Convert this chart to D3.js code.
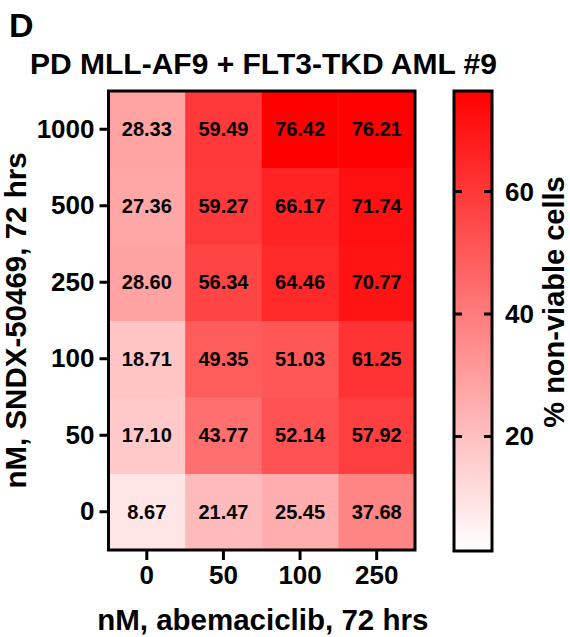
<!DOCTYPE html>
<html>
<head>
<meta charset="utf-8">
<script src="https://cdn.jsdelivr.net/npm/d3@7"></script>
<style>
html,body{margin:0;padding:0;background:#fff;}
svg{display:block;font-family:"Liberation Sans",Arial,Helvetica,sans-serif;font-weight:bold;}
</style>
</head>
<body>
<svg id="chart" width="570" height="637"></svg>
<script>
// ---- data ----
const xCategories = ["0", "50", "100", "250"];            // nM abemaciclib
const yCategories = ["0", "50", "100", "250", "500", "1000"]; // nM SNDX-50469 (bottom to top)
const rowValues_0    = [8.67, 21.47, 25.45, 37.68];
const rowValues_50   = [17.10, 43.77, 52.14, 57.92];
const rowValues_100  = [18.71, 49.35, 51.03, 61.25];
const rowValues_250  = [28.60, 56.34, 64.46, 70.77];
const rowValues_500  = [27.36, 59.27, 66.17, 71.74];
const rowValues_1000 = [28.33, 59.49, 76.42, 76.21];
const colorTicks = [20, 40, 60];
const colorDomain = [1.3, 76.42];

const titleText = "PD MLL-AF9 + FLT3-TKD AML #9";
const panelLabel = "D";
const xTitle = "nM, abemaciclib, 72 hrs";
const yTitle = "nM, SNDX-50469, 72 hrs";
const cbTitle = "% non-viable cells";

const rows = [rowValues_0, rowValues_50, rowValues_100, rowValues_250, rowValues_500, rowValues_1000];
const cells = [];
rows.forEach((r, i) => r.forEach((v, j) => cells.push({x: xCategories[j], y: yCategories[i], v})));

const svg = d3.select("#chart");

const L = 108.5, R = 415, T = 91, B = 550;
const x = d3.scaleBand().domain(xCategories).range([L, R]);
const y = d3.scaleBand().domain(yCategories).range([B, T]);
const color = d3.scaleLinear().domain(colorDomain).range(["#ffffff", "#ff0000"]).clamp(true);

// cells
svg.append("g").selectAll("rect").data(cells).join("rect")
  .attr("x", d => x(d.x)).attr("y", d => y(d.y))
  .attr("width", x.bandwidth() + 0.5).attr("height", y.bandwidth() + 0.5)
  .attr("fill", d => color(d.v));

svg.append("g").selectAll("text").data(cells).join("text")
  .attr("x", d => x(d.x) + x.bandwidth() / 2)
  .attr("y", d => y(d.y) + y.bandwidth() / 2)
  .attr("text-anchor", "middle").attr("dominant-baseline", "central")
  .attr("font-size", 20).attr("fill", "#000")
  .text(d => d.v.toFixed(2));

// frame
svg.append("rect").attr("x", L).attr("y", T).attr("width", R - L).attr("height", B - T)
  .attr("fill", "none").attr("stroke", "#000").attr("stroke-width", 3);

// axes
const xAxis = d3.axisBottom(x).tickSize(10).tickPadding(6);
const gx = svg.append("g").attr("transform", `translate(0,${B})`).call(xAxis);
gx.select(".domain").remove();
gx.selectAll(".tick line").attr("stroke", "#000").attr("stroke-width", 3);
gx.selectAll(".tick text").attr("font-size", 26).attr("font-family", null).attr("fill", "#000");

const yAxis = d3.axisLeft(y).tickSize(9).tickPadding(5);
const gy = svg.append("g").attr("transform", `translate(${L},0)`).call(yAxis);
gy.select(".domain").remove();
gy.selectAll(".tick line").attr("stroke", "#000").attr("stroke-width", 3);
gy.selectAll(".tick text").attr("font-size", 26).attr("font-family", null).attr("fill", "#000");

// color bar
const cbL = 454, cbR = 492, cbT = 91, cbB = 551;
const cy = d3.scaleLinear().domain(colorDomain).range([cbB, cbT]);
const defs = svg.append("defs");
const grad = defs.append("linearGradient").attr("id", "cbgrad")
  .attr("x1", 0).attr("y1", 1).attr("x2", 0).attr("y2", 0);
grad.append("stop").attr("offset", "0%").attr("stop-color", color(colorDomain[0]));
grad.append("stop").attr("offset", "100%").attr("stop-color", color(colorDomain[1]));
svg.append("rect").attr("x", cbL).attr("y", cbT).attr("width", cbR - cbL).attr("height", cbB - cbT)
  .attr("fill", "url(#cbgrad)").attr("stroke", "#000").attr("stroke-width", 3);
const cbTicks = svg.append("g");
colorTicks.forEach(t => {
  cbTicks.append("line").attr("x1", cbL).attr("x2", cbL + 8).attr("y1", cy(t)).attr("y2", cy(t))
    .attr("stroke", "#000").attr("stroke-width", 3);
  cbTicks.append("line").attr("x1", cbR - 8).attr("x2", cbR).attr("y1", cy(t)).attr("y2", cy(t))
    .attr("stroke", "#000").attr("stroke-width", 3);
  cbTicks.append("text").attr("x", cbR + 13).attr("y", cy(t)).attr("dominant-baseline", "central")
    .attr("font-size", 26).text(t);
});

// titles
svg.append("text").attr("x", 9).attr("y", 37).attr("font-size", 34).text(panelLabel);
svg.append("text").attr("x", 30).attr("y", 74).attr("font-size", 30).text(titleText);
svg.append("text").attr("x", (L + R) / 2 + 1).attr("y", 630).attr("text-anchor", "middle")
  .attr("font-size", 29.5).text(xTitle);
svg.append("text").attr("transform", `translate(26,${(T + B) / 2}) rotate(-90)`)
  .attr("text-anchor", "middle").attr("font-size", 29.5).text(yTitle);
svg.append("text").attr("transform", `translate(564,302) rotate(-90)`)
  .attr("text-anchor", "middle").attr("font-size", 29).text(cbTitle);
</script>
</body>
</html>
